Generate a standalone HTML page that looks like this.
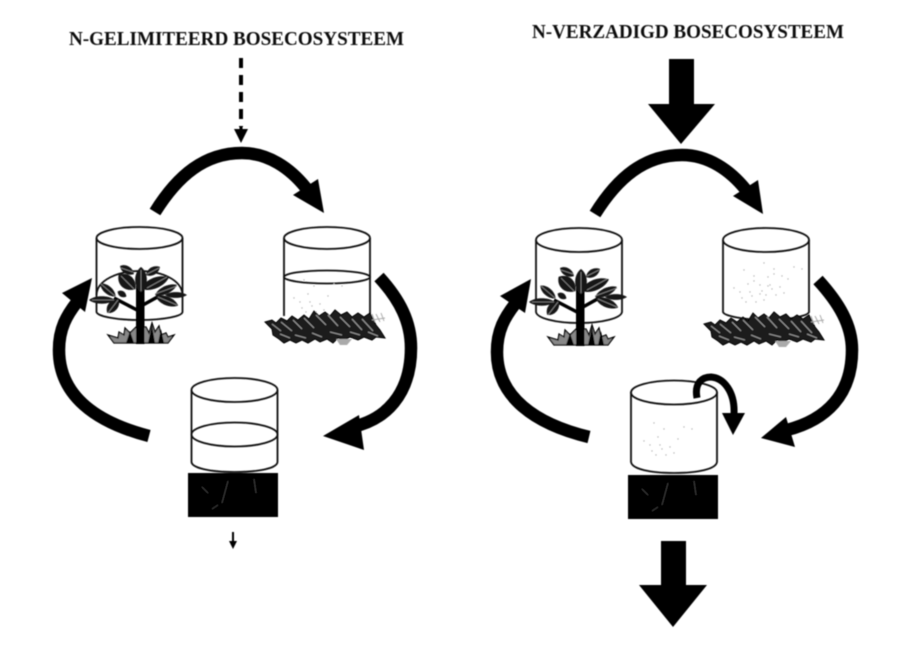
<!DOCTYPE html>
<html><head><meta charset="utf-8"><style>
html,body{margin:0;padding:0;background:#fff;width:918px;height:646px;overflow:hidden}
svg{display:block}
text{font-family:"Liberation Serif",serif;font-weight:bold;fill:#111}
</style></head><body>
<svg width="918" height="646" viewBox="0 0 918 646" xmlns="http://www.w3.org/2000/svg">
<defs>
<filter id="b" x="-5%" y="-5%" width="110%" height="110%"><feGaussianBlur stdDeviation="0.5"/></filter>
<path id="lf" d="M-1 0C-.55 -1.3 .5 -1.3 1 0C.5 1.3 -.55 1.3 -1 0Z" fill="#141414"/>
<g id="plant">
  <polygon points="108,335 118,338 119,332 124,335 125,328 130,333 136,327 146,327 149,333 152,323 155,332 159,326 161,335 166,333 168,337 174,335 168,343 114,343" fill="#888" stroke="#000" stroke-width="1.300"/>
  <path d="M126,343 L130,331 L134,343 Z M148,343 L152,325 L155,343 Z M158,343 L161,329 L164,343 Z" fill="#000"/>
  <rect x="136" y="285" width="8.500" height="59" fill="#000"/>
  <path d="M137,310 L114,298 M143,305 L161,295" stroke="#000" stroke-width="3.500" fill="none"/>
  <use href="#lf" transform="translate(127,270) rotate(30) scale(8,4)"/>
  <use href="#lf" transform="translate(153,271) rotate(-30) scale(8,4)"/>
  <use href="#lf" transform="translate(141,280) rotate(90) scale(13,6)"/>
  <use href="#lf" transform="translate(127,282) rotate(40) scale(11,7)"/>
  <use href="#lf" transform="translate(155,283) rotate(-22) scale(15,5.500)"/>
  <use href="#lf" transform="translate(108,290) rotate(40) scale(10,4)"/>
  <use href="#lf" transform="translate(102,300) scale(13,3.800)"/>
  <use href="#lf" transform="translate(113,306) rotate(-50) scale(9,5)"/>
  <use href="#lf" transform="translate(122,294) rotate(30) scale(5,3)"/>
  <use href="#lf" transform="translate(166,290) rotate(-25) scale(12,4)"/>
  <use href="#lf" transform="translate(176,295) scale(11,3)"/>
  <use href="#lf" transform="translate(167,301) rotate(22) scale(12,4.500)"/>
  <path d="M121,276 L134,289 M141,270 L141,291 M147,288 L167,277 M101,284 L115,296 M92,300 L114,300 M108,313 L118,300 M155,294 L177,286 M158,297 L177,305 M121,268 L133,272 M147,274 L159,268" stroke="#8a8a8a" stroke-width=".8" fill="none"/>
</g>
<g id="pile">
  <polygon points="265,322 272,320 276,323 281,318 287,321 292,316 298,320 304,315 309,319 314,311 319,316 325,312 330,316 335,310 341,315 347,312 352,317 358,313 364,317 370,313 373,319 376,325 380,330 385,338 376,337 372,340 364,337 358,340 350,337 345,340 338,338 333,343 327,339 320,342 315,339 308,343 302,340 296,343 290,340 284,343 279,339 273,335 272,329" fill="#1c1c1c" stroke="#000" stroke-width="1"/>
  <g stroke="#9a9a9a" stroke-width="1.100" fill="none">
    <path d="M272,324 L281,331 M281,322 L292,331 M293,320 L302,329 M304,318 L314,328 M316,315 L326,325 M328,315 L338,326 M340,317 L350,327 M352,319 L362,330 M362,319 L373,331"/>
    <path d="M280,334 L290,338 M295,335 L306,338 M312,333 L322,337 M330,332 L342,335 M350,332 L360,335 M368,332 L378,336"/>
  </g>
  <path d="M336,339 L352,339 L347,345 L340,345 Z" fill="#aaa"/>
  <path d="M372,320 L385,318 M376,314 L380,322 M381,313 L384,321 M372,314 L375,322" stroke="#aaa" stroke-width="1" fill="none"/>
</g>
<g id="dots" fill="#b5b5b5">
  <circle cx="4" cy="26" r=".7"/><circle cx="10" cy="30" r=".7"/><circle cx="16" cy="40" r=".7"/><circle cx="24" cy="14" r=".7"/><circle cx="20" cy="30" r=".7"/><circle cx="14" cy="8" r=".7"/><circle cx="18" cy="22" r=".7"/><circle cx="26" cy="40" r=".7"/><circle cx="30" cy="32" r=".7"/><circle cx="38" cy="24" r=".7"/><circle cx="44" cy="12" r=".7"/><circle cx="52" cy="14" r=".7"/><circle cx="22" cy="34" r=".7"/><circle cx="34" cy="38" r=".7"/><circle cx="12" cy="36" r=".7"/>
</g>
<g id="soil">
  <rect x="0" y="0" width="90" height="44" fill="#060606"/>
  <path d="M40,8 L34,30 M66,6 L68,20 M14,14 L20,20 M30,32 L24,36" stroke="#3a3a3a" stroke-width="1" fill="none"/>
</g>
</defs>

<rect width="918" height="646" fill="#fff"/>
<g filter="url(#b)">
<text x="69" y="45" font-size="20" textLength="335" lengthAdjust="spacingAndGlyphs">N-GELIMITEERD BOSECOSYSTEEM</text>
<text x="532" y="38" font-size="20" textLength="312" lengthAdjust="spacingAndGlyphs">N-VERZADIGD BOSECOSYSTEEM</text>

<!-- LEFT -->
<path d="M241,58 V127" stroke="#000" stroke-width="4" stroke-dasharray="10 7" fill="none"/>
<polygon points="234,129 248,129 241,143" fill="#000"/>
<rect x="239.500" y="126" width="3" height="5" fill="#000"/>

<g fill="none" stroke="#111" stroke-width="1.800">
  <ellipse cx="139.500" cy="238" rx="43" ry="11"/>
  <path d="M96.500,238 V312 C97,316 115,320 139.500,320 C165,320 182,316 182.500,312 V238"/>
  <path d="M96.500,295 C97,280 118,271 139.500,271 C162,271 182,280 182.500,295"/>
  <ellipse cx="327" cy="238" rx="43" ry="11"/>
  <path d="M284,238 V316 M370,238 V316"/>
  <ellipse cx="327" cy="277" rx="43" ry="6.500"/>
  <ellipse cx="234.500" cy="390" rx="43" ry="12"/>
  <path d="M191.500,390 V462 C192,468 210,472 234.500,472 C260,472 277,468 277.500,462 V390"/>
  <ellipse cx="234.500" cy="434.500" rx="43" ry="12"/>
</g>
<use href="#dots" x="290" y="272" />
<use href="#plant"/>
<use href="#pile"/>
<use href="#soil" x="188" y="473"/>
<path d="M233,532 V542" stroke="#000" stroke-width="2" fill="none"/>
<polygon points="229,541 237,541 233,549" fill="#000"/>

<g fill="none" stroke="#000" stroke-width="12.500">
  <path d="M155,212 C178,175 205,153 242,153 C268,153 290,168 306,188"/>
  <path d="M379,277 C400,300 411,322 411,348 C411,395 385,420 352,427"/>
  <path d="M149,436 C95,422 59,395 59,350 C59,328 67,315 77,302"/>
</g>
<g fill="#000">
  <polygon points="324,213 293,195 318,179"/>
  <polygon points="323,436 359,415 364,450"/>
  <polygon points="92,278 62,293 85,312"/>
</g>

<!-- RIGHT -->
<polygon points="669,59 694,59 694,104 715,104 681,144 648,104 669,104" fill="#000"/>
<polygon points="661,541 686,541 686,585 707,585 673,627 639,585 661,585" fill="#000"/>

<g fill="none" stroke="#111" stroke-width="1.800">
  <ellipse cx="579" cy="240" rx="43" ry="12"/>
  <path d="M536,240 V312 C537,318 555,323 579,323 C603,323 621,318 622,312 V240"/>
  <ellipse cx="766" cy="240" rx="43" ry="12"/>
  <path d="M723,240 V312 C724,316 745,320 766,320 C788,320 808,316 809,312 V240"/>
  <ellipse cx="674" cy="392.500" rx="43" ry="12"/>
  <path d="M631,392 V462 C632,469 650,473 674,473 C698,473 716,469 717,462 V392"/>
</g>
<use href="#dots" x="730" y="262"/>
<use href="#dots" x="750" y="255"/>
<use href="#dots" x="640" y="415"/>
<use href="#plant" x="440" y="2"/>
<use href="#pile" x="439" y="2"/>
<use href="#soil" x="628" y="475"/>

<g fill="none" stroke="#000" stroke-width="12.500">
  <path d="M595,214 C618,177 645,155 682,155 C708,155 730,170 746,190"/>
  <path d="M818,280 C839,303 852,325 852,350 C852,395 826,420 787,430"/>
  <path d="M589,437 C535,424 497,397 497,352 C497,330 505,317 515,304"/>
</g>
<g fill="#000">
  <polygon points="763,214 733,196 758,180"/>
  <polygon points="761,438 786,417 795,447"/>
  <polygon points="531,279 500,296 525,313"/>
</g>
<path d="M697,398 C694,382 703,377 711,377 C724,378 735,392 734,414" fill="none" stroke="#000" stroke-width="7"/>
<polygon points="722,413 745,413 733,435" fill="#000"/>
</g>
</svg>
</body></html>
